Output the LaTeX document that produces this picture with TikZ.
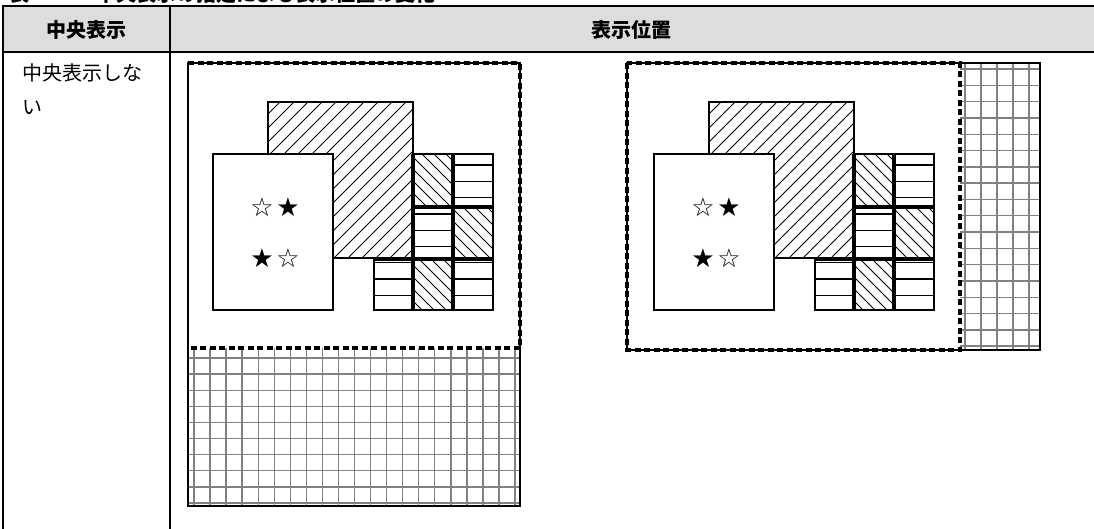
\documentclass[tikz,border=0pt]{standalone}
\usepackage{fontspec}
\newfontfamily\jp{Noto Sans CJK JP}
\newfontfamily\sym{DejaVu Sans}
\definecolor{hdrgray}{HTML}{DDDDDD}
\definecolor{gridgray}{HTML}{808080}
\tikzset{
  tbl/.style={line width=2.2pt, black},
  hdr/.style={font=\jp\bfseries\fontsize{20}{24}\selectfont, inner sep=0pt},
  captxt/.style={font=\jp\bfseries\fontsize{20}{24}\selectfont, inner sep=0pt, anchor=base west},
  body/.style={font=\jp\fontsize{20}{34}\selectfont, align=left, inner sep=0pt, anchor=base west},
  frameline/.style={line width=1.3pt},
  scr/.style={line width=3.2pt, dash pattern=on 6pt off 3.5pt},
  gridl/.style={gridgray, line width=1.4pt},
  hatchl/.style={line width=0.9pt},
  thickl/.style={line width=3.4pt},
  starsym/.style={font=\sym\fontsize{26}{28}\selectfont, inner sep=0pt},
}
\newcommand{\drawcontent}[1]{%
\begin{scope}[shift={(#1,0)}]
  % large hatched rectangle
  \fill[white] (268,102) rectangle (413,258);
  \begin{scope}
    \clip (268,102) rectangle (413,258);
    \foreach \c in {368,382,...,690} \draw[hatchl] ({\c-258},258) -- ({\c-102},102);
  \end{scope}
  \draw[frameline] (268,102) rectangle (413,258);
  % white rectangle
  \filldraw[fill=white, frameline] (213,154) rectangle (333,310);
  % tiles
  \fill[white] (413,154) rectangle (493,259) (374,259) rectangle (493,310);
  \begin{scope}
    \clip (413,154) rectangle (453,207) (453,207) rectangle (493,259) (413,259) rectangle (453,310);
    \foreach \c in {100,112,...,340} \draw[hatchl] ({\c+150},150) -- ({\c+314},314);
  \end{scope}
  \begin{scope}
    \clip (453,154) rectangle (493,207) (413,207) rectangle (453,259) (374,259) rectangle (413,310) (453,259) rectangle (493,310);
    \foreach \k in {0,...,8} \draw[frameline] (374,{165+16.3*\k}) -- (493,{165+16.3*\k});
  \end{scope}
  \draw[frameline] (413,154) rectangle (493,310) (374,259) rectangle (413,310);
  \draw[thickl] (413,154) -- (413,310);
  \draw[thickl] (453,154) -- (453,310);
  \draw[thickl] (413,207) -- (493,207);
  \draw[thickl] (374,259) -- (493,259);
\end{scope}}
\begin{document}
\begin{tikzpicture}[x=1pt,y=-1pt]
\useasboundingbox (0,0) rectangle (1094,528);
\clip (0,0) rectangle (1094,528);
\fill[white] (0,0) rectangle (1094,528);
% caption (cut off at top)
\node[captxt] (cap1) at (9,1) {表};
\node[captxt] (cap2) at (96,1) {中央表示の指定による表示位置の変化};
% table
\fill[hdrgray] (3,6) rectangle (1100,52);
\draw[tbl] (3,6) -- (1100,6);
\draw[tbl] (3,52) -- (1100,52);
\draw[tbl] (3,5) -- (3,530);
\draw[tbl] (170,5) -- (170,530);
\node[hdr] (h1) at (86.5,29.5) {中央表示};
\node[hdr] (h2) at (631,29.5) {表示位置};
\node[body] (r1) at (22,114) {中央表示しな\\い};
% ---------- left diagram ----------
\begin{scope}
  \clip (188,348) rectangle (520,506);
  \foreach \k in {0,...,20} \draw[gridl] ({194+16.05*\k},340) -- ({194+16.05*\k},510);
  \foreach \k in {0,...,9} \draw[gridl] (180,{358+16.1*\k}) -- (525,{358+16.1*\k});
\end{scope}
\draw[frameline] (188,63) rectangle (520,506);
\draw[scr] (188,63) -- (520,63) -- (520,348) -- (188,348);
\drawcontent{0}
\node[starsym] (sa1) at (262,207) {☆};
\node[starsym] (sa2) at (288,207) {★};
\node[starsym] (sa3) at (262,258) {★};
\node[starsym] (sa4) at (288,258) {☆};
% ---------- right diagram ----------
\begin{scope}
  \clip (960,63) rectangle (1040,350);
  \foreach \k in {0,...,4} \draw[gridl] ({965+16*\k},60) -- ({965+16*\k},355);
  \foreach \k in {0,...,17} \draw[gridl] (955,{69+16.3*\k}) -- (1045,{69+16.3*\k});
\end{scope}
\draw[frameline] (627,63) rectangle (1040,350);
\draw[scr] (627,63) rectangle (960,350);
\drawcontent{441}
\node[starsym] (sb1) at (703,207) {☆};
\node[starsym] (sb2) at (729,207) {★};
\node[starsym] (sb3) at (703,258) {★};
\node[starsym] (sb4) at (729,258) {☆};
\end{tikzpicture}
\end{document}
